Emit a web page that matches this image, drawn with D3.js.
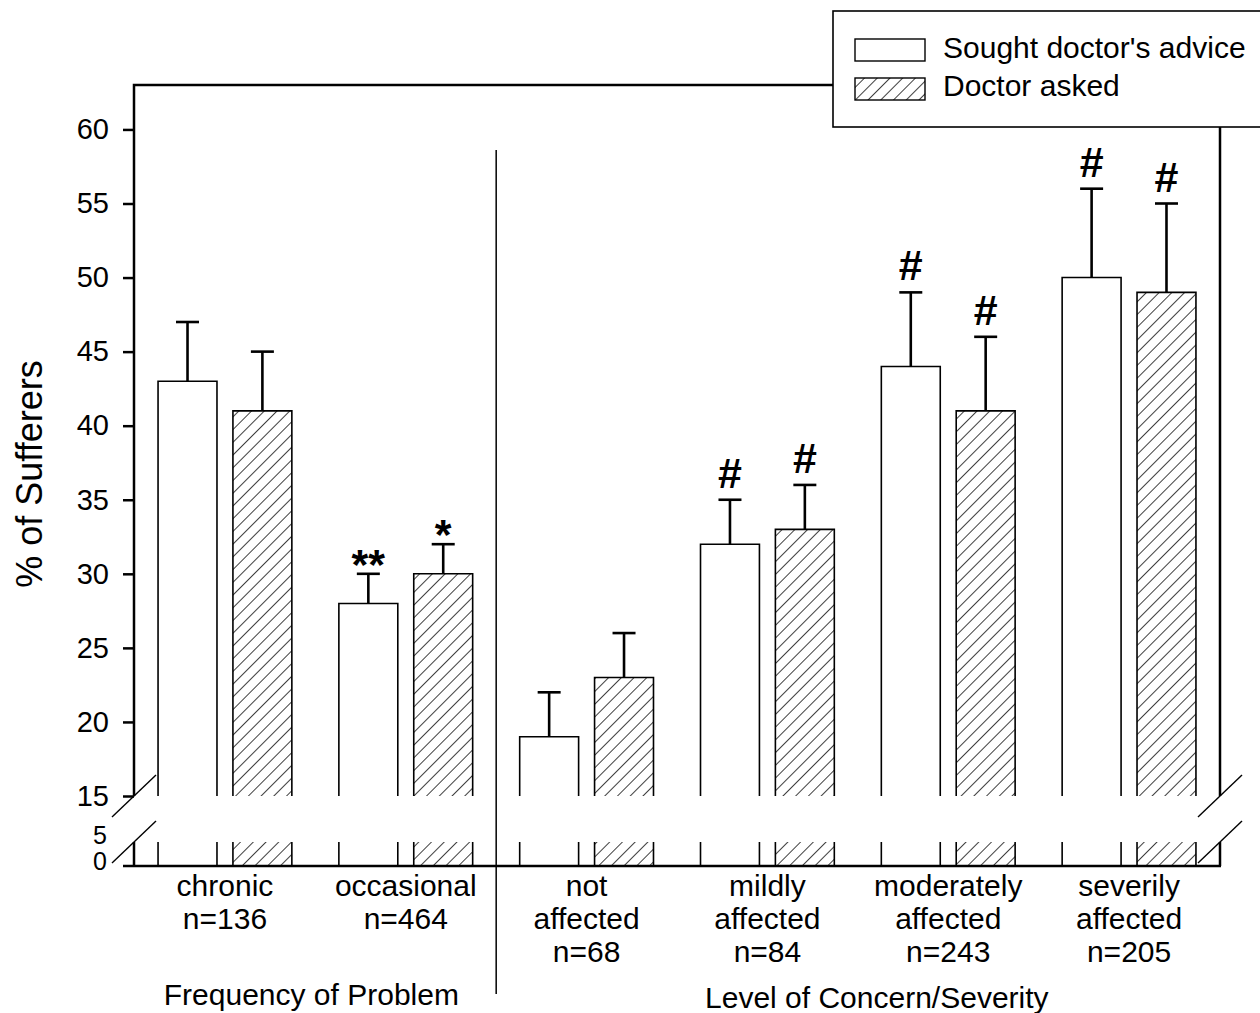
<!DOCTYPE html>
<html>
<head>
<meta charset="utf-8">
<script src="https://cdn.jsdelivr.net/npm/d3@7"></script>
<style>
  body { margin: 0; background: #fff; }
  svg { font-family: "Liberation Sans", Arial, sans-serif; }
</style>
</head>
<body>
<div id="chart"></div>
<script>
// data
var categories = ["chronic", "occasional", "not affected", "mildly affected", "moderately affected", "severily affected"];
var catLabels = [
    ["chronic", "n=136"],
    ["occasional", "n=464"],
    ["not", "affected", "n=68"],
    ["mildly", "affected", "n=84"],
    ["moderately", "affected", "n=243"],
    ["severily", "affected", "n=205"]
];
var series = ["Sought doctor's advice", "Doctor asked"];
var sought = [43, 28, 19, 32, 44, 50];
var soughtErr = [47, 30, 22, 35, 49, 56];
var asked = [41, 30, 23, 33, 41, 49];
var askedErr = [45, 32, 26, 36, 46, 55];
var soughtMarks = ["", "**", "", "#", "#", "#"];
var askedMarks = ["", "*", "", "#", "#", "#"];
var upperTicks = [15, 20, 25, 30, 35, 40, 45, 50, 55, 60];
var lowerTicks = [0, 5];
var groupNames = ["Frequency of Problem", "Level of Concern/Severity"];

var svgWidth = 1260;
var svgHeight = 1013;
var plotLeft = 134, plotRight = 1220, plotTop = 85, plotBottom = 866;

var svg = d3.select("#chart")
    .append("svg")
    .attr("width", svgWidth)
    .attr("height", svgHeight);

// hatch pattern
var defs = svg.append("defs");
defs.append("pattern")
    .attr("id", "hatch")
    .attr("patternUnits", "userSpaceOnUse")
    .attr("width", 9)
    .attr("height", 9)
    .attr("patternTransform", "rotate(45)")
    .append("line")
    .attr("x1", 0).attr("y1", 0)
    .attr("x2", 0).attr("y2", 9)
    .attr("stroke", "#000")
    .attr("stroke-width", 1.5);

// broken y axis: two linear scales
var yUpper = d3.scaleLinear().domain([15, 63]).range([796, plotTop]);
var yLower = d3.scaleLinear().domain([0, 5]).range([plotBottom, 842]);

var x0 = d3.scaleBand()
    .domain(categories)
    .range([plotLeft, plotRight])
    .paddingInner(0.26)
    .paddingOuter(0.133);

var x1 = d3.scaleBand()
    .domain(series)
    .range([0, x0.bandwidth()])
    .paddingInner(0.213);

var rows = categories.map(function(c, i) {
    return [
        {cat: c, s: series[0], v: sought[i], e: soughtErr[i], m: soughtMarks[i], fill: "#fff"},
        {cat: c, s: series[1], v: asked[i], e: askedErr[i], m: askedMarks[i], fill: "url(#hatch)"}
    ];
});
var bars = [].concat.apply([], rows);

function bx(d) { return x0(d.cat) + x1(d.s); }
var bw = x1.bandwidth();

// bars
var barG = svg.append("g");
barG.selectAll("rect.up")
    .data(bars)
    .enter()
    .append("rect")
    .attr("class", "up")
    .attr("x", bx)
    .attr("y", d => yUpper(d.v))
    .attr("width", bw)
    .attr("height", d => yUpper(15) - yUpper(d.v))
    .attr("fill", d => d.fill);
barG.selectAll("rect.low")
    .data(bars)
    .enter()
    .append("rect")
    .attr("class", "low")
    .attr("x", bx)
    .attr("y", yLower(5))
    .attr("width", bw)
    .attr("height", yLower(0) - yLower(5))
    .attr("fill", d => d.fill);
barG.selectAll("path.outline")
    .data(bars)
    .enter()
    .append("path")
    .attr("class", "outline")
    .attr("fill", "none")
    .attr("stroke", "#000")
    .attr("stroke-width", 1.6)
    .attr("d", function(d) {
        var xa = bx(d), xb = bx(d) + bw;
        return `M${xa},${yUpper(15)}V${yUpper(d.v)}H${xb}V${yUpper(15)}` +
               `M${xa},${yLower(5)}V${yLower(0)}M${xb},${yLower(5)}V${yLower(0)}`;
    });

// frame
var frame = svg.append("g")
    .attr("stroke", "#000")
    .attr("stroke-width", 2.5)
    .attr("fill", "none");
frame.append("path")
    .attr("d", `M${plotLeft},${yUpper(15)}V${plotTop}H${plotRight}V${yUpper(15)}`);
frame.append("path")
    .attr("d", `M${plotLeft},${yLower(5)}V${plotBottom}M${plotRight},${yLower(5)}V${plotBottom}`);
frame.append("line")
    .attr("x1", plotLeft - 11).attr("x2", plotRight + 1)
    .attr("y1", plotBottom).attr("y2", plotBottom);

// axes
var upperAxis = svg.append("g")
    .attr("transform", `translate(${plotLeft},0)`)
    .call(d3.axisLeft(yUpper).tickValues(upperTicks).tickFormat(d3.format("d")).tickSize(11).tickPadding(14));
var lowerAxis = svg.append("g")
    .attr("transform", `translate(${plotLeft},0)`)
    .call(d3.axisLeft(yLower).tickValues(lowerTicks).tickFormat(d3.format("d")).tickSize(0).tickPadding(27));
[upperAxis, lowerAxis].forEach(function(a) {
    a.select(".domain").remove();
    a.selectAll("line").attr("stroke-width", 2.5);
    a.selectAll("text")
        .attr("font-family", "Liberation Sans, Arial, sans-serif")
        .attr("font-size", 29)
        .attr("fill", "#000");
});
lowerAxis.selectAll("text")
    .attr("font-size", 25)
    .attr("transform", d => d == 0 ? "translate(0,-5)" : "translate(0,-7)");

// error bars
var errG = svg.append("g")
    .attr("stroke", "#000")
    .attr("stroke-width", 2.6);
errG.selectAll("line.stem")
    .data(bars)
    .enter()
    .append("line")
    .attr("class", "stem")
    .attr("x1", d => bx(d) + bw / 2)
    .attr("x2", d => bx(d) + bw / 2)
    .attr("y1", d => yUpper(d.v))
    .attr("y2", d => yUpper(d.e));
errG.selectAll("line.cap")
    .data(bars)
    .enter()
    .append("line")
    .attr("class", "cap")
    .attr("x1", d => bx(d) + bw / 2 - 11.5)
    .attr("x2", d => bx(d) + bw / 2 + 11.5)
    .attr("y1", d => yUpper(d.e))
    .attr("y2", d => yUpper(d.e));

// significance marks
svg.selectAll("text.mark")
    .data(bars.filter(d => d.m))
    .enter()
    .append("text")
    .attr("class", "mark")
    .attr("x", d => bx(d) + bw / 2)
    .attr("y", d => d.m == "#" ? yUpper(d.e) - 12 : yUpper(d.e) + 5)
    .attr("text-anchor", "middle")
    .style("font-size", "43px")
    .style("font-weight", "bold")
    .text(d => d.m);

// break marks
var breaks = svg.append("g")
    .attr("stroke", "#000")
    .attr("stroke-width", 1.4);
[plotLeft, plotRight].forEach(function(ax) {
    [yUpper(15), yLower(5)].forEach(function(by) {
        breaks.append("line")
            .attr("x1", ax - 22).attr("y1", by + 21)
            .attr("x2", ax + 22).attr("y2", by - 21);
    });
});

// divider between the two groups
var divX = (x0(categories[1]) + x0.bandwidth() + x0(categories[2])) / 2;
svg.append("line")
    .attr("x1", divX).attr("x2", divX)
    .attr("y1", 150).attr("y2", 994)
    .attr("stroke", "#000")
    .attr("stroke-width", 1.5);

// category labels
var catG = svg.selectAll("g.cat")
    .data(categories)
    .enter()
    .append("g")
    .attr("class", "cat")
    .attr("transform", d => `translate(${x0(d) + x0.bandwidth() / 2},0)`);
catG.selectAll("text")
    .data((d, i) => catLabels[i])
    .enter()
    .append("text")
    .attr("x", 0)
    .attr("y", (t, j) => 896 + j * 33)
    .attr("text-anchor", "middle")
    .style("font-size", "30px")
    .text(t => t);

// group labels
var g1 = (x0(categories[0]) + x0(categories[1]) + x0.bandwidth()) / 2;
var g2 = (x0(categories[2]) + x0(categories[5]) + x0.bandwidth()) / 2 + 19;
svg.append("text")
    .attr("x", g1 - 4).attr("y", 1005)
    .attr("text-anchor", "middle")
    .style("font-size", "30px")
    .text(groupNames[0]);
svg.append("text")
    .attr("x", g2).attr("y", 1008)
    .attr("text-anchor", "middle")
    .style("font-size", "30px")
    .text(groupNames[1]);

// y title
svg.append("text")
    .attr("transform", "rotate(-90)")
    .attr("x", -474)
    .attr("y", 42)
    .attr("text-anchor", "middle")
    .style("font-size", "36px")
    .text("% of Sufferers");

// legend
var legend = svg.append("g");
legend.append("rect")
    .attr("x", 833).attr("y", 11)
    .attr("width", 440).attr("height", 116)
    .attr("fill", "#fff")
    .attr("stroke", "#000")
    .attr("stroke-width", 1.6);
legend.selectAll("rect.sw")
    .data(series)
    .enter()
    .append("rect")
    .attr("class", "sw")
    .attr("x", 855)
    .attr("y", (d, i) => 39 + i * 39)
    .attr("width", 70)
    .attr("height", 22)
    .attr("fill", (d, i) => i == 0 ? "#fff" : "url(#hatch)")
    .attr("stroke", "#000")
    .attr("stroke-width", 1.4);
legend.selectAll("text.lg")
    .data(series)
    .enter()
    .append("text")
    .attr("class", "lg")
    .attr("x", 943)
    .attr("y", (d, i) => 58 + i * 38)
    .style("font-size", "30px")
    .text(d => d);
</script>
</body>
</html>
